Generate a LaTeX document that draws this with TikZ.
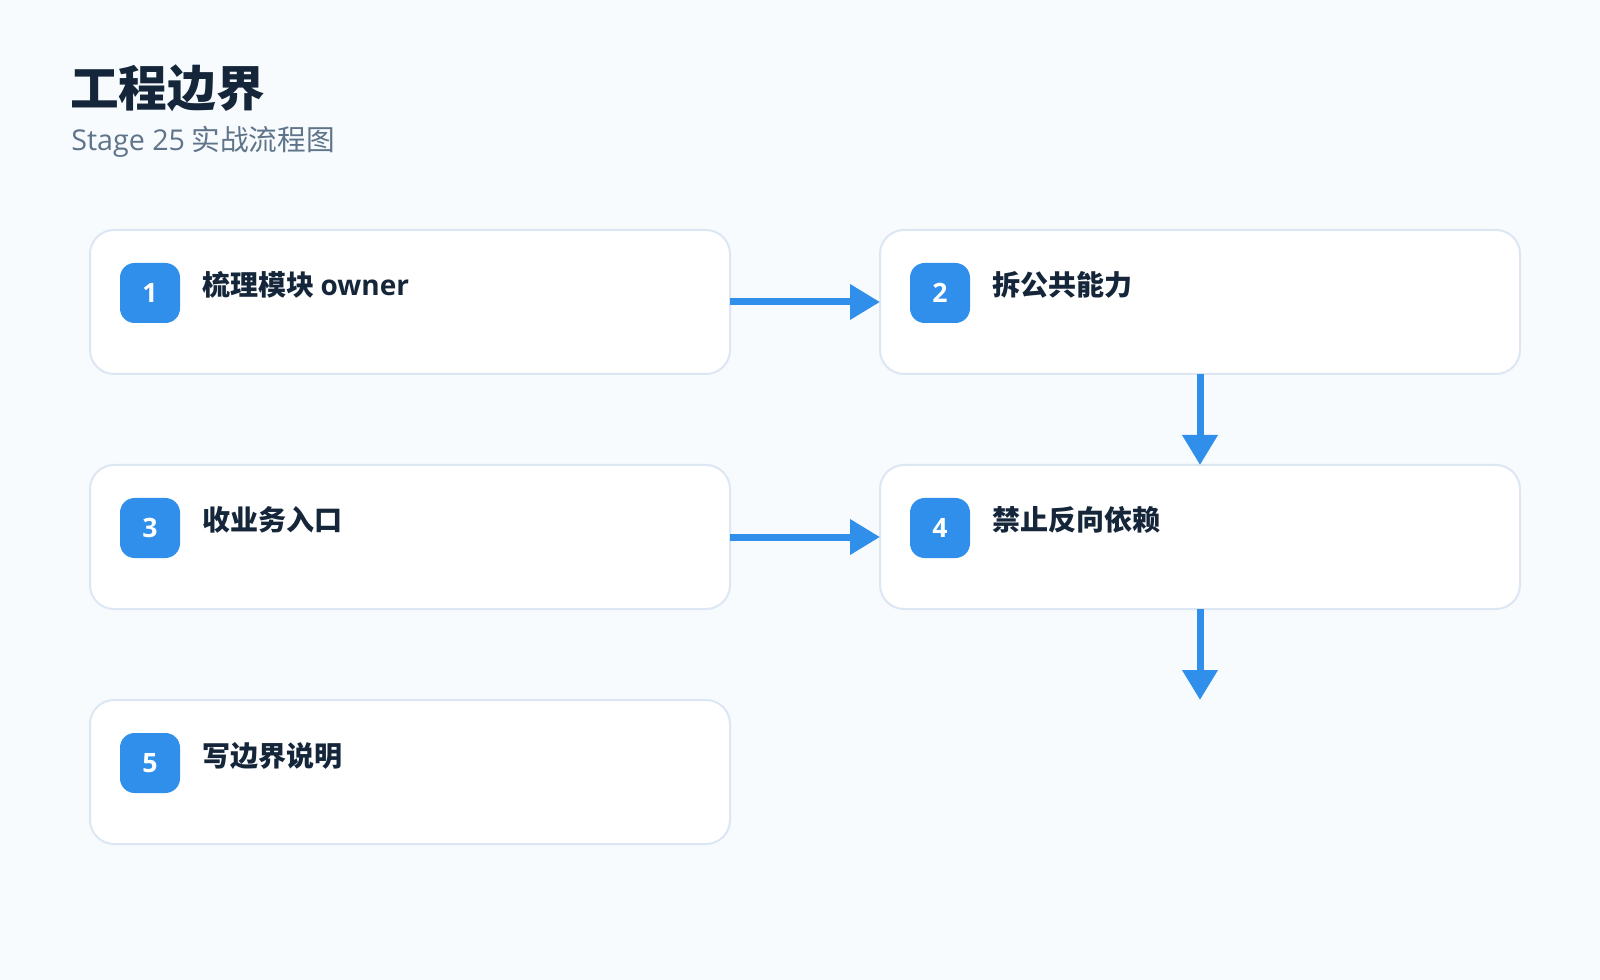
\documentclass[tikz,border=0pt]{standalone}
\usepackage{fontspec}
\setmainfont{Noto Sans CJK SC}
\newfontfamily\latinfont{Open Sans}
\usetikzlibrary{arrows.meta}
\definecolor{bg}{HTML}{F7FBFE}
\definecolor{cardline}{HTML}{DCE7F3}
\definecolor{blueone}{HTML}{2F8FEA}
\definecolor{ink}{HTML}{15263A}
\definecolor{subink}{HTML}{5F7489}
\begin{document}
\begin{tikzpicture}[x=0.75pt,y=-0.75pt,
  card/.style={draw=cardline,line width=1.5pt,fill=white,rounded corners=18pt,
    minimum width=480pt,minimum height=108pt,anchor=north west,inner sep=0pt,outer sep=0pt},
  badge/.style={fill=blueone,rounded corners=11pt,minimum size=45pt,inner sep=0pt,outer sep=0pt,
    text=white,font=\latinfont\bfseries\fontsize{20pt}{20pt}\selectfont},
  steptext/.style={anchor=base west,inner sep=0pt,text=ink,font=\fontsize{21pt}{25pt}\selectfont\bfseries},
  flow/.style={draw=blueone,line width=5.25pt,-{Triangle[length=22.5pt,width=25.5pt]}}
]
\fill[bg] (0,0) rectangle (1600,980);
\useasboundingbox (0,0) rectangle (1600,980);

\node[anchor=base west,inner sep=0pt,text=ink,font=\fontsize{36.5pt}{40pt}\selectfont\bfseries] (title) at (70,107) {工程边界};
\node[anchor=base west,inner sep=0pt,text=subink,font=\fontsize{21.5pt}{24pt}\selectfont] (subtitle) at (71,151) {{\latinfont Stage 25} 实战流程图};

% cards
\node[card] (b1) at (90,230) {};
\node[card] (b2) at (880,230) {};
\node[card] (b3) at (90,465) {};
\node[card] (b4) at (880,465) {};
\node[card] (b5) at (90,700) {};

% badges
\node[badge] (n1) at (150,293) {1};
\node[badge] (n2) at (940,293) {2};
\node[badge] (n3) at (150,528) {3};
\node[badge] (n4) at (940,528) {4};
\node[badge] (n5) at (150,763) {5};

% texts
\node[steptext] (t1) at (202,296) {梳理模块 {\latinfont\bfseries owner}};
\node[steptext] (t2) at (992,296) {拆公共能力};
\node[steptext] (t3) at (202,531) {收业务入口};
\node[steptext] (t4) at (992,531) {禁止反向依赖};
\node[steptext] (t5) at (202,766) {写边界说明};

\coordinate (end) at (1200,700);

% connectors
\draw[flow] (b1.east) -- (b2.west);
\draw[flow] (b2.south) -- (b4.north);
\draw[flow] (b3.east) -- (b4.west);
\draw[flow] (b4.south) -- (end);
\end{tikzpicture}
\end{document}
